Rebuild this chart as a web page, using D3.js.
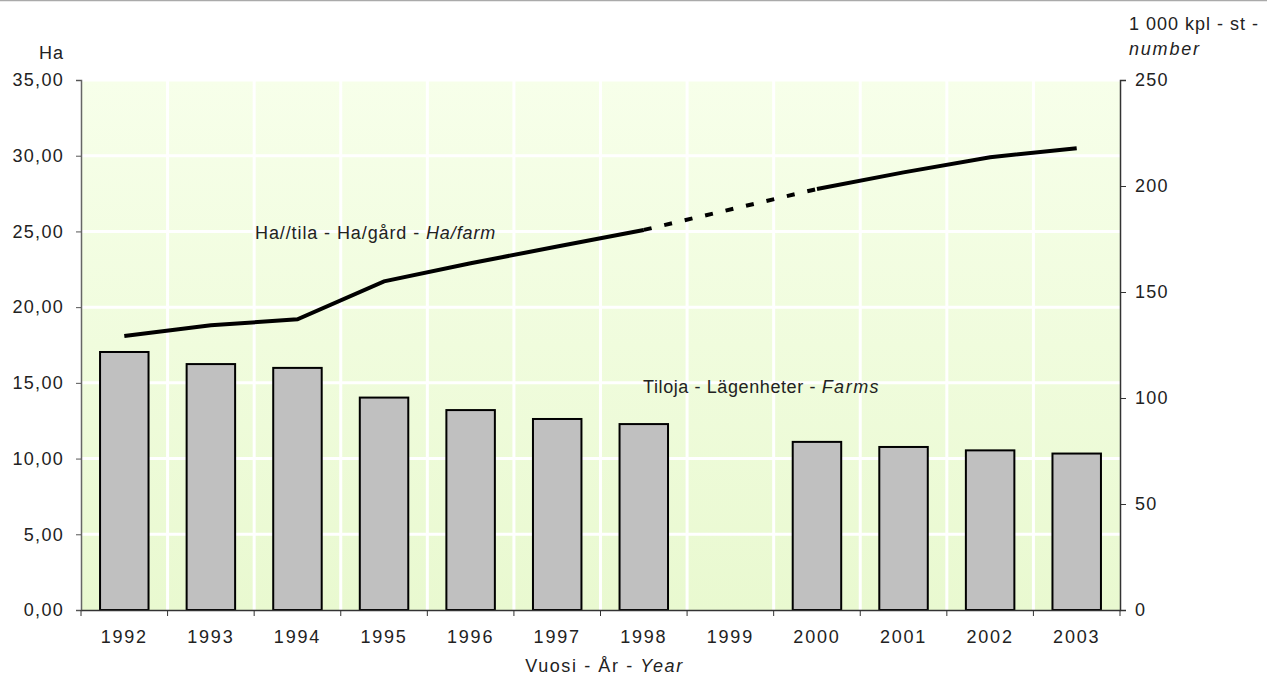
<!DOCTYPE html>
<html>
<head>
<meta charset="utf-8">
<script src="https://cdn.jsdelivr.net/npm/d3@7"></script>
<style>
  body { margin: 0; background: #fff; }
  svg text { font-family: "Liberation Sans", Arial, sans-serif; fill: #222; }
</style>
</head>
<body>
<div id="chart"></div>
<script>
// data
var years = ["1992", "1993", "1994", "1995", "1996", "1997", "1998", "1999", "2000", "2001", "2002", "2003"];
var farms = [121.7, 116.0, 114.2, 100.2, 94.3, 90.1, 87.7, null, 79.3, 76.9, 75.3, 73.8];   // 1 000 kpl
var haPerFarm = [18.1, 18.8, 19.2, 21.7, 22.9, 24.0, 25.1, null, 27.8, 28.9, 29.9, 30.5];
var leftTicks = [0, 5, 10, 15, 20, 25, 30, 35];
var rightTicks = [0, 50, 100, 150, 200, 250];

var width = 1267, height = 678;
var margin = { top: 80, right: 147, bottom: 68, left: 81 };
var innerW = width - margin.left - margin.right;
var innerH = height - margin.top - margin.bottom;
var fs = 18;

var svg = d3.select("#chart").append("svg")
  .attr("width", width)
  .attr("height", height);

// thin grey line on top of the page
svg.append("line")
  .attr("x1", 0).attr("x2", width).attr("y1", 0.5).attr("y2", 0.5)
  .attr("stroke", "#aaa").attr("stroke-width", 1.5);

var defs = svg.append("defs");
var grad = defs.append("linearGradient").attr("id", "bg").attr("x1", 0).attr("y1", 0).attr("x2", 0).attr("y2", 1);
grad.append("stop").attr("offset", "0%").attr("stop-color", "#f7ffea");
grad.append("stop").attr("offset", "100%").attr("stop-color", "#e9f9d0");

var g = svg.append("g").attr("transform", "translate(" + margin.left + "," + margin.top + ")");

var x = d3.scaleBand().domain(years).range([0, innerW]).paddingInner(0.44).paddingOuter(0.22);
var xb = d3.scaleBand().domain(years).range([0, innerW]);
var yL = d3.scaleLinear().domain([0, 35]).range([innerH, 0]);
var yR = d3.scaleLinear().domain([0, 250]).range([innerH, 0]);

g.append("rect").attr("width", innerW).attr("height", innerH).attr("fill", "url(#bg)");

// white grid
g.selectAll(".hgrid").data(leftTicks.slice(1)).enter().append("line")
  .attr("x1", 0).attr("x2", innerW)
  .attr("y1", d => yL(d)).attr("y2", d => yL(d))
  .attr("stroke", "#fff").attr("stroke-width", 3);
g.selectAll(".vgrid").data(years.slice(1)).enter().append("line")
  .attr("x1", d => xb(d)).attr("x2", d => xb(d))
  .attr("y1", 0).attr("y2", innerH)
  .attr("stroke", "#fff").attr("stroke-width", 3);

// bars
g.selectAll(".bar").data(years.map((y, i) => ({ year: y, v: farms[i] })).filter(d => d.v != null))
  .enter().append("rect")
  .attr("x", d => x(d.year))
  .attr("y", d => yR(d.v))
  .attr("width", x.bandwidth())
  .attr("height", d => innerH - yR(d.v))
  .attr("fill", "#c0c0c0")
  .attr("stroke", "#000")
  .attr("stroke-width", 2);

// line
var pts = years.map((y, i) => ({ year: y, v: haPerFarm[i] }));
var line = d3.line()
  .defined(d => d.v != null)
  .x(d => xb(d.year) + xb.bandwidth() / 2)
  .y(d => yL(d.v));
g.append("path").datum(pts)
  .attr("d", line)
  .attr("fill", "none").attr("stroke", "#000").attr("stroke-width", 4);
// dashed bridge over the missing year
var gapIdx = pts.findIndex(d => d.v == null);
g.append("path").datum([pts[gapIdx - 1], pts[gapIdx + 1]])
  .attr("d", line)
  .attr("fill", "none").attr("stroke", "#000").attr("stroke-width", 4)
  .attr("stroke-dasharray", "8,13");

// axes
var axL = g.append("g").call(d3.axisLeft(yL).tickValues(leftTicks).tickSize(5).tickPadding(12)
  .tickFormat(d => d3.format(".2f")(d).replace(".", ",")));
axL.select(".domain").attr("stroke", "#666").attr("stroke-width", 1.5);
axL.selectAll("line").attr("stroke", "#555");
axL.selectAll("text").attr("font-size", fs).attr("fill", "#222").attr("letter-spacing", 1.3);

var axR = g.append("g").attr("transform", "translate(" + innerW + ",0)")
  .call(d3.axisRight(yR).tickValues(rightTicks).tickSize(6).tickPadding(9));
axR.select(".domain").attr("stroke", "#333").attr("stroke-width", 1.5);
axR.selectAll("line").attr("stroke", "#333");
axR.selectAll("text").attr("font-size", fs).attr("fill", "#222").attr("letter-spacing", 1.3);

var axB = g.append("g").attr("transform", "translate(0," + innerH + ")")
  .call(d3.axisBottom(xb).tickSize(0).tickPadding(20));
axB.select(".domain").attr("stroke", "#333").attr("stroke-width", 1.5);
axB.selectAll("text").attr("font-size", fs).attr("fill", "#222").attr("letter-spacing", 1.8);
axB.selectAll(".bt").data(years.slice(1).concat(["end"])).enter().append("line")
  .attr("x1", d => d === "end" ? innerW : xb(d)).attr("x2", d => d === "end" ? innerW : xb(d))
  .attr("y1", 0).attr("y2", 6)
  .attr("stroke", "#333");
axB.append("line").attr("x1", 0).attr("x2", 0).attr("y1", 0).attr("y2", 6).attr("stroke", "#333");

// titles
svg.append("text").attr("x", 64).attr("y", 59).attr("text-anchor", "end").attr("font-size", fs)
  .attr("letter-spacing", 1).text("Ha");

svg.append("text").attr("x", 1129).attr("y", 30).attr("font-size", fs).attr("letter-spacing", 1)
  .text("1 000 kpl - st -");
svg.append("text").attr("x", 1129).attr("y", 55).attr("font-size", fs).attr("font-style", "italic")
  .attr("letter-spacing", 1.8).text("number");

var xt = svg.append("text").attr("x", margin.left + innerW / 2 + 4).attr("y", 672).attr("text-anchor", "middle")
  .attr("font-size", fs).attr("letter-spacing", 1.6);
xt.append("tspan").text("Vuosi - År - ");
xt.append("tspan").attr("font-style", "italic").text("Year");

var l1 = g.append("text").attr("x", 255 - margin.left).attr("y", 239 - margin.top)
  .attr("font-size", fs).attr("letter-spacing", 0.9);
l1.append("tspan").text("Ha//tila - Ha/gård - ");
l1.append("tspan").attr("font-style", "italic").text("Ha/farm");

var l2 = g.append("text").attr("x", 643 - margin.left).attr("y", 393 - margin.top)
  .attr("font-size", fs).attr("letter-spacing", 0.6);
l2.append("tspan").text("Tiloja - Lägenheter - ");
l2.append("tspan").attr("font-style", "italic").attr("letter-spacing", 1.5).text("Farms");
</script>
</body>
</html>
